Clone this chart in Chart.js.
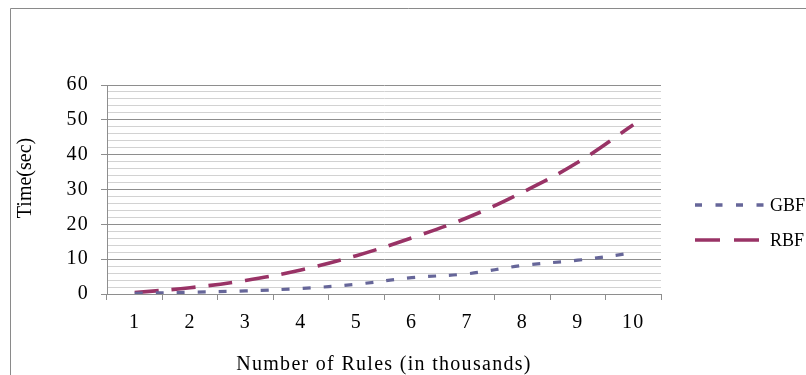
<!DOCTYPE html>
<html>
<head>
<meta charset="utf-8">
<script src="https://cdn.jsdelivr.net/npm/chart.js@4/dist/chart.umd.min.js"></script>
<style>
  html, body { margin: 0; padding: 0; background: #ffffff; overflow: hidden; }
  #wrap { position: relative; width: 806px; height: 375px; }
</style>
</head>
<body>
<div id="wrap"><canvas id="chart" width="806" height="375"></canvas></div>
<script>
// Rules loaded (thousands) and filtering time in seconds
const ruleCounts = ['1', '2', '3', '4', '5', '6', '7', '8', '9', '10'];
const gbfTimes = [0.2, 0.5, 0.9, 1.6, 2.8, 4.7, 5.8, 8.2, 9.7, 11.8];
const rbfTimes = [0.4, 1.8, 3.9, 6.9, 11.0, 16.1, 21.9, 29.2, 37.8, 48.6];

const SERIF = "'Liberation Serif', 'Times New Roman', serif";
const GBF_COLOR = '#666699';
const RBF_COLOR = '#993366';
const MAJOR = '#8e8e8e';
const MINOR = '#d2d2d2';
const TRACKING = '1.3px';

// Outer frame, y-axis title and the legend at the right
const decorations = {
  id: 'decorations',
  beforeDraw(chart) {
    const c = chart.ctx;
    c.fillStyle = '#ffffff';
    c.fillRect(0, 0, chart.width, chart.height);
    c.strokeStyle = '#8a8a8a';
    c.lineWidth = 1;
    c.beginPath();
    c.moveTo(10.5, chart.height);
    c.lineTo(10.5, 8.5);
    c.lineTo(chart.width, 8.5);
    c.stroke();
    // slightly open tracking for all axis text
    c.letterSpacing = TRACKING;
  },
  afterDraw(chart) {
    const c = chart.ctx;
    c.save();
    // y-axis title
    c.translate(26, 178);
    c.rotate(-Math.PI / 2);
    c.fillStyle = '#000000';
    c.font = "20px " + SERIF;
    c.letterSpacing = '0px';
    c.textAlign = 'center';
    c.textBaseline = 'middle';
    c.fillText('Time(sec)', 0, 0);
    c.restore();

    const items = [
      { label: 'GBF', color: GBF_COLOR, dash: [7, 13.5], width: 3.5, y: 205 },
      { label: 'RBF', color: RBF_COLOR, dash: [25, 14], width: 3.5, y: 240 }
    ];
    items.forEach(it => {
      c.save();
      c.strokeStyle = it.color;
      c.lineWidth = it.width;
      c.lineCap = 'butt';
      c.setLineDash(it.dash);
      c.beginPath();
      c.moveTo(695, it.y);
      c.lineTo(766, it.y);
      c.stroke();
      c.setLineDash([]);
      c.fillStyle = '#000000';
      c.font = "18px " + SERIF;
      c.letterSpacing = '0px';
      c.textAlign = 'left';
      c.textBaseline = 'middle';
      c.fillText(it.label, 770, it.y + 1);
      c.restore();
    });
  }
};

new Chart(document.getElementById('chart'), {
  type: 'line',
  data: {
    labels: ruleCounts,
    datasets: [
      {
        label: 'GBF',
        data: gbfTimes,
        borderColor: GBF_COLOR,
        backgroundColor: GBF_COLOR,
        borderWidth: 3.2,
        borderDash: [8, 13],
        borderCapStyle: 'butt',
        pointRadius: 0,
        tension: 0.4,
        fill: false
      },
      {
        label: 'RBF',
        data: rbfTimes,
        borderColor: RBF_COLOR,
        backgroundColor: RBF_COLOR,
        borderWidth: 3.6,
        borderDash: [24, 13],
        borderCapStyle: 'butt',
        pointRadius: 0,
        tension: 0.4,
        fill: false
      }
    ]
  },
  options: {
    responsive: false,
    animation: false,
    events: [],
    layout: { padding: { left: 0, top: 85, right: 145, bottom: 0 } },
    plugins: {
      legend: { display: false },
      tooltip: { enabled: false }
    },
    scales: {
      x: {
        type: 'category',
        offset: true,
        afterFit(scale) { scale.height = 81; },
        grid: {
          offset: true,
          drawOnChartArea: false,
          drawTicks: true,
          tickLength: 6,
          color: MAJOR,
          lineWidth: 1
        },
        border: { display: true, color: MAJOR, width: 1 },
        ticks: {
          color: '#000000',
          font: { family: SERIF, size: 20 },
          padding: 11,
          maxRotation: 0,
          autoSkip: false
        },
        title: {
          display: true,
          text: 'Number of Rules (in thousands)',
          color: '#000000',
          font: { family: SERIF, size: 20, lineHeight: 1 },
          padding: { top: 0, bottom: 0 }
        }
      },
      y: {
        min: 0,
        max: 60,
        afterFit(scale) { scale.width = 107; },
        grid: {
          drawTicks: true,
          tickLength: 6,
          lineWidth: 1,
          color(ctx) { return ctx.tick && ctx.tick.value % 10 === 0 ? MAJOR : MINOR; },
          tickColor(ctx) { return ctx.tick && ctx.tick.value % 10 === 0 ? MAJOR : 'rgba(0,0,0,0)'; }
        },
        border: { display: true, color: MAJOR, width: 1 },
        ticks: {
          stepSize: 2,
          autoSkip: false,
          color: '#000000',
          font: { family: SERIF, size: 20 },
          padding: 12,
          callback(value) { return value % 10 === 0 ? String(value) : ''; }
        }
      }
    }
  },
  plugins: [decorations]
});
</script>
</body>
</html>
